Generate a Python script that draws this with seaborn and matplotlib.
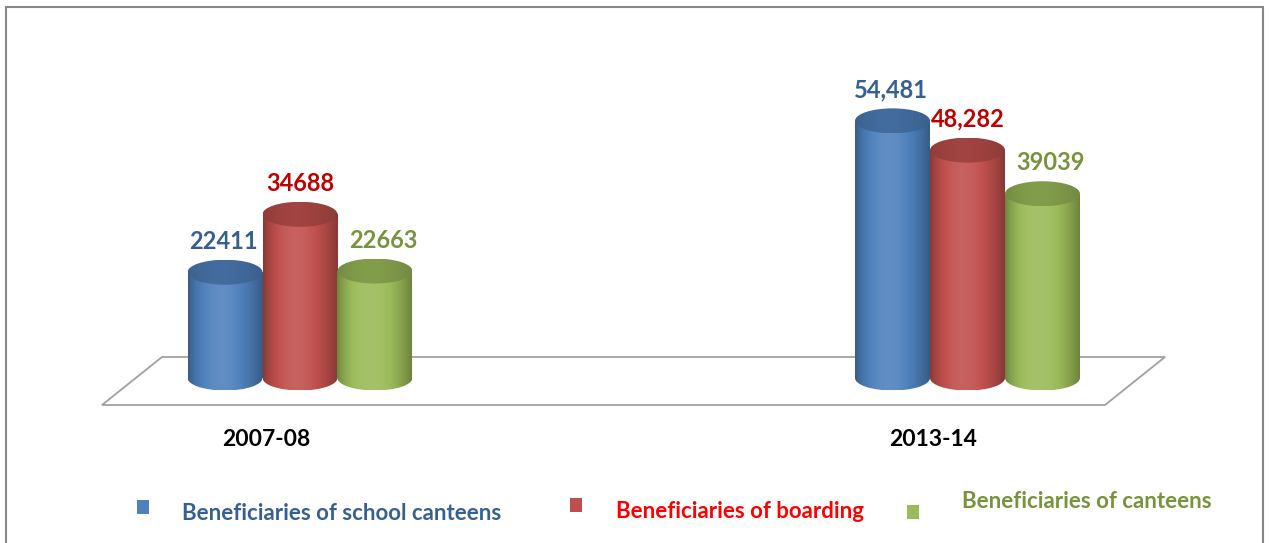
import numpy as np
import pandas as pd
import seaborn as sns
import matplotlib
matplotlib.use("Agg")
import matplotlib.pyplot as plt
from matplotlib.patches import Ellipse, Rectangle, Polygon
from matplotlib.colors import to_rgb

# ---- data -------------------------------------------------------------
years = ["2007-08", "2013-14"]
series = [
    "Beneficiaries of school canteens",
    "Beneficiaries of boarding",
    "Beneficiaries of canteens",
]
# value labels exactly as printed above each cylinder
school_canteens = ["22411", "54,481"]
boarding = ["34688", "48,282"]
canteens = ["22663", "39039"]

# ---- style ------------------------------------------------------------
bar_colors = ["#4F81BD", "#C0504D", "#9BBB59"]
value_colors = ["#376092", "#C00000", "#77933C"]
legend_text_colors = ["#376092", "#FF0000", "#77933C"]
label_dx = [-2, 0, 8]  # horizontal nudge of the value labels, pixels

W, H, DPI = 1269, 543, 100
sns.set_theme(style="white")
plt.rcParams["font.family"] = ["Lato", "DejaVu Sans"]

rows = []
for name, labels in zip(series, [school_canteens, boarding, canteens]):
    for year, lab in zip(years, labels):
        rows.append({"year": year, "series": name, "label": lab,
                     "value": int(lab.replace(",", ""))})
df = pd.DataFrame(rows)

fig = plt.figure(figsize=(W / DPI, H / DPI), dpi=DPI)
fig.patch.set_facecolor("white")


def fxy(px, py):
    """pixel position -> figure fraction"""
    return (px / W, 1 - py / H)


# plot area: value 0 sits on the centre line of the cylinder bases
PX_PER_UNIT = 0.00472
BASE_PX, TOP_PX, BOTTOM_PX = 378, 40, 420
ax = fig.add_axes([0, (H - BOTTOM_PX) / H, 1, (BOTTOM_PX - TOP_PX) / H])

sns.barplot(data=df, x="year", y="value", hue="series", order=years,
            hue_order=series, palette=bar_colors, width=0.337, gap=0,
            saturation=1, legend=False, ax=ax, linewidth=0, errorbar=None)

unit_px = 667.5
x0_px = 300.0
xlim = (-x0_px / unit_px, (W - x0_px) / unit_px)
ylim = (-(BOTTOM_PX - BASE_PX) / PX_PER_UNIT, (BASE_PX - TOP_PX) / PX_PER_UNIT)

# outer frame
fig.add_artist(Rectangle(fxy(6, 560), (1263 - 6) / W, (560 - 7) / H,
                         transform=fig.transFigure, fill=False,
                         edgecolor="#878787", linewidth=1.5))

# floor of the 3-D plot
floor = Polygon([fxy(102, 405), fxy(1105, 405), fxy(1165, 357), fxy(162, 357)],
                closed=True, transform=fig.transFigure, facecolor="white",
                edgecolor="#A0A0A0", linewidth=1.3, zorder=0.5, clip_on=False)
ax.add_patch(floor)

CAP_H = 25 / PX_PER_UNIT  # ellipse height in data units


def shade(base, f):
    base = np.array(to_rgb(base))
    if f <= 1:
        return base * f
    return base + (1 - base) * (f - 1)


t = np.linspace(0, 1, 200)
profile = 0.70 + 0.40 * np.sin(np.pi * t ** 0.85) ** 0.9
cap_profile = 0.74 + 0.10 * np.sin(np.pi * t ** 0.85)

for k, (container, name) in enumerate(zip(ax.containers, series)):
    color = bar_colors[k]
    grad = np.array([[shade(color, f) for f in profile]])
    cap_grad = np.array([[shade(color, f) for f in cap_profile]])
    sub = df[df["series"] == name].set_index("year")
    for bar, year in zip(container.patches, years):
        x, w, h = bar.get_x(), bar.get_width(), bar.get_height()
        cx = x + w / 2
        z = 2 + k
        bar.set_zorder(z)
        bottom = Ellipse((cx, 0), w, CAP_H, transform=ax.transData)
        for clip in (bar, bottom):
            im = ax.imshow(grad, extent=[x, x + w, -CAP_H / 2, h],
                           aspect="auto", zorder=z + 0.1,
                           interpolation="bilinear")
            im.set_clip_path(clip)
        cap = Ellipse((cx, h), w, CAP_H, transform=ax.transData)
        im = ax.imshow(cap_grad, extent=[x, x + w, h - CAP_H / 2, h + CAP_H / 2],
                       aspect="auto", zorder=z + 0.2, interpolation="bilinear")
        im.set_clip_path(cap)
        ax.annotate(sub.loc[year, "label"], xy=(cx, h), xytext=(label_dx[k], 31),
                    textcoords="offset pixels", ha="center", va="center",
                    fontsize=17, fontweight="bold", color=value_colors[k],
                    zorder=10)

# category labels under each group
for i, year in enumerate(years):
    ax.annotate(year, xy=(i, 0), xytext=(-34, -62), textcoords="offset pixels",
                ha="center", va="center", fontsize=16.5, fontweight="bold",
                color="black", annotation_clip=False)

ax.set_xlim(*xlim)
ax.set_ylim(*ylim)
ax.axis("off")

# legend entries
legend_pos = [((143, 507), (182, 513)), ((576, 505), (616, 512)), ((913, 512), (962, 502))]
for k, name in enumerate(series):
    (mx, my), (tx, ty) = legend_pos[k]
    fig.add_artist(Rectangle(fxy(mx - 6, my + 7), 12 / W, 14 / H,
                             transform=fig.transFigure, facecolor=bar_colors[k],
                             edgecolor="none"))
    fig.text(*fxy(tx, ty), name, ha="left", va="center", fontsize=16,
             fontweight="bold", color=legend_text_colors[k])

fig.savefig("out.png", dpi=DPI, facecolor="white")
